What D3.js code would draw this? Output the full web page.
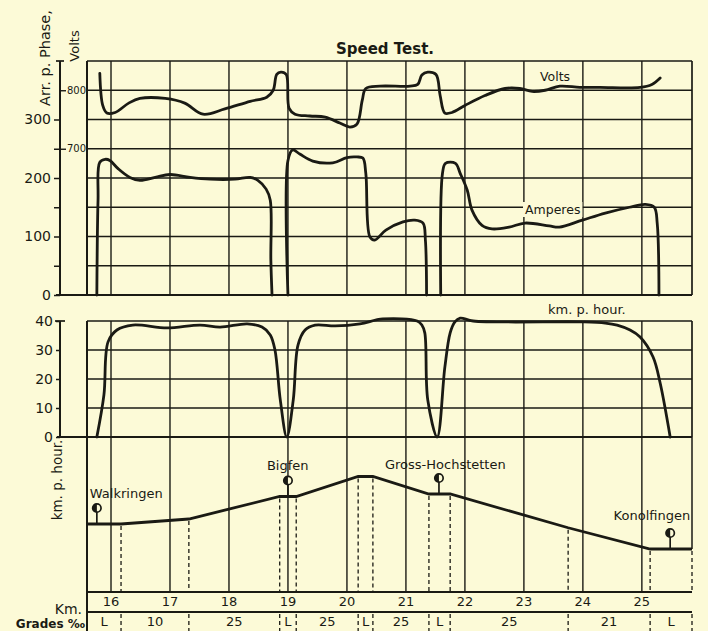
<!DOCTYPE html>
<html lang="en">
<head>
<meta charset="UTF-8">
<script src="https://d3js.org/d3.v7.min.js"></script>
<title>Speed Test.</title>
<style>
    body { margin: 0; background: #fcfad7; }
    svg text { font-family: "DejaVu Sans", sans-serif; fill: #1a1a14; }
</style>
</head>
<body>
<div id="chart"></div>
<script>
// values (km along the line)
let kmTicks = [16, 17, 18, 19, 20, 21, 22, 23, 24, 25];
let ampTicks = [0, 50, 100, 150, 200, 250, 300];
let ampLabels = [0, 100, 200, 300];
let voltLabels = [700, 800];
let speedTicks = [0, 10, 20, 30, 40];

let volts = [[15.81, 829], [15.86, 774], [15.93, 761], [16.07, 762], [16.3, 778], [16.49, 786], [16.92, 786],
    [17.25, 778], [17.56, 759], [17.93, 768], [18.36, 781], [18.64, 788], [18.75, 800], [18.81, 827],
    [18.88, 831], [18.97, 827], [19.02, 769], [19.12, 759], [19.37, 756], [19.63, 754], [19.88, 744],
    [20.05, 737], [20.17, 742], [20.26, 783], [20.32, 803], [20.56, 807], [21.07, 807], [21.2, 810],
    [21.27, 826], [21.37, 831], [21.51, 827], [21.58, 791], [21.66, 761], [21.78, 762], [22.0, 774],
    [22.34, 791], [22.68, 803], [22.93, 803], [23.14, 798], [23.36, 800], [23.61, 807], [23.95, 805],
    [24.29, 805], [24.97, 805], [25.17, 810], [25.31, 821]];

let amps1 = [[15.76, 0], [15.78, 162], [15.81, 227], [15.9, 232], [15.98, 230], [16.12, 216], [16.32, 201],
    [16.49, 196], [16.75, 201], [17.0, 206], [17.34, 201], [17.68, 198], [18.1, 198], [18.36, 201],
    [18.49, 196], [18.63, 181], [18.7, 162], [18.71, 60], [18.73, 0]];
let amps2 = [[19.0, 0], [19.0, 230], [19.08, 248], [19.2, 241], [19.42, 229], [19.76, 226], [20.0, 235],
    [20.17, 236], [20.27, 234], [20.32, 208], [20.39, 99], [20.47, 94], [20.66, 111], [20.95, 125],
    [21.15, 128], [21.29, 123], [21.33, 94], [21.35, 0]];
let amps3 = [[21.59, 0], [21.62, 208], [21.67, 225], [21.84, 225], [21.92, 208], [22.04, 179], [22.12, 145],
    [22.29, 119], [22.46, 113], [22.75, 116], [23.02, 123], [23.43, 118], [23.6, 116], [23.99, 128],
    [24.38, 140], [24.79, 150], [25.06, 155], [25.21, 150], [25.26, 123], [25.29, 0]];

let speed = [[15.76, 0], [15.88, 14.5], [15.95, 32.8], [16.1, 36.9], [16.37, 38.6], [16.95, 37.6],
    [17.51, 38.6], [17.85, 37.9], [18.31, 39], [18.56, 37.9], [18.7, 35.2], [18.78, 30], [18.87, 12.8],
    [18.98, 0], [19.09, 12.8], [19.17, 31.7], [19.29, 36.9], [19.46, 38.6], [19.8, 38.3], [20.22, 39],
    [20.61, 40.7], [21.19, 40], [21.27, 38.6], [21.32, 35.9], [21.37, 12.8], [21.53, 0], [21.66, 24.1],
    [21.75, 35.9], [21.83, 39.7], [21.92, 41], [22.14, 40], [24.0, 39.7], [24.38, 39.3], [24.58, 38.6],
    [24.8, 36.9], [24.97, 34.5], [25.19, 27.6], [25.31, 18.6], [25.48, 0]];

let profileKm = [15.593, 16.17, 17.32, 18.86, 19.14, 20.19, 20.44, 21.39, 21.75, 23.75, 25.14, 25.85];
let profileElev = [700, 700, 704, 722, 722, 738, 738, 724, 724, 697, 680, 680];
let gradeLabels = ["L", "10", "25", "L", "25", "L", "25", "L", "25", "21", "L"];

let stationNames = ["Walkringen", "Bigfen", "Gross-Hochstetten", "Konolfingen"];
let stationKm = [15.76, 19.0, 21.56, 25.48];
let stationElev = [700, 722, 724, 680];

// page
let width = 708, height = 631;
let ink = "#1a1a14";
let paper = "#fcfad7";
let svg = d3.select("#chart").append("svg")
    .attr("width", width).attr("height", height)
    .style("display", "block").style("background", paper);

let x = d3.scaleLinear().domain([15.593, 25.85]).range([87, 692]);
let yAmp = d3.scaleLinear().domain([0, 400]).range([295, 61]);
let yVolt = d3.scaleLinear().domain([450, 850]).range([295, 61]);
let ySpeed = d3.scaleLinear().domain([0, 40]).range([437, 321]);
let yElev = d3.scaleLinear().domain([645.6, 769.6]).range([592, 437]);

let line = (g, x1, y1, x2, y2, w, dash) => g.append("line")
    .attr("x1", x1).attr("y1", y1).attr("x2", x2).attr("y2", y2)
    .attr("stroke", ink).attr("stroke-width", w || 1.3)
    .attr("stroke-dasharray", dash || null);

let grid = svg.append("g");

// upper panel grid
d3.range(0, 401, 50).forEach(a => line(grid, x.range()[0], yAmp(a), x.range()[1], yAmp(a), a === 0 ? 2 : 1.3));
line(grid, 56, yAmp(0), x.range()[0], yAmp(0), 2);
kmTicks.forEach(k => line(grid, x(k), yAmp(400), x(k), yAmp(0), 1.4));
line(grid, x.range()[0], yAmp(400), x.range()[0], yAmp(0), 2);
line(grid, x.range()[1], yAmp(400), x.range()[1], yAmp(0), 1.7);

// speed panel grid
speedTicks.forEach(s => line(grid, x.range()[0], ySpeed(s), x.range()[1], ySpeed(s), s === 0 ? 2 : 1.3));
line(grid, 57, ySpeed(0), x.range()[0], ySpeed(0), 2);
kmTicks.forEach(k => line(grid, x(k), ySpeed(40), x(k), ySpeed(0), 1.4));
line(grid, x.range()[0], ySpeed(40), x.range()[0], height, 2);
line(grid, x.range()[1], ySpeed(40), x.range()[1], ySpeed(0), 1.7);

// profile panel grid
let yBase = yElev.range()[0];
kmTicks.forEach(k => line(grid, x(k), ySpeed(0), x(k), yBase, 1.4));
line(grid, x.range()[1], ySpeed(0), x.range()[1], yElev(profileElev[profileElev.length - 1]), 1.5);
line(grid, x.range()[0], yBase, x.range()[1], yBase, 2);
line(grid, x.range()[0], yBase + 20, x.range()[1], yBase + 20, 2);
profileKm.slice(1).forEach((k, i) => {
    let e = profileElev[i + 1];
    line(grid, x(k), yElev(e) + 2, x(k), yBase, 1.3, "4,3");
    line(grid, x(k), yBase + 22, x(k), height, 1.3, "4,3");
});

// left axes
let amAxis = svg.append("g").attr("transform", "translate(60,0)")
    .call(d3.axisLeft(yAmp).tickValues(ampTicks).tickSize(6).tickSizeOuter(0)
        .tickFormat(d => ampLabels.includes(d) ? d : ""));
amAxis.select(".domain").attr("d", "M0," + yAmp(400) + "V" + yAmp(0)).attr("stroke-width", 2);
amAxis.selectAll(".tick line").attr("stroke-width", 1.5);
amAxis.selectAll(".tick text").attr("x", -9).style("font-size", "14px").style("font-family", "DejaVu Sans");
line(svg, 56, yAmp(400), 64, yAmp(400), 1.7);

let vAxis = svg.append("g").attr("transform", "translate(60,0)")
    .call(d3.axisRight(yVolt).tickValues(voltLabels).tickSize(6).tickSizeOuter(0));
vAxis.select(".domain").remove();
vAxis.selectAll(".tick line").attr("stroke-width", 1.4);
vAxis.selectAll(".tick text").attr("x", 7).style("font-size", "10px").style("font-family", "DejaVu Sans");

let sAxis = svg.append("g").attr("transform", "translate(60,0)")
    .call(d3.axisLeft(ySpeed).tickValues(speedTicks).tickSize(4).tickSizeOuter(0));
sAxis.select(".domain").attr("d", "M0," + ySpeed(40) + "V" + ySpeed(0)).attr("stroke-width", 2);
sAxis.selectAll(".tick line").attr("stroke-width", 1.5);
sAxis.selectAll(".tick text").attr("x", -7).style("font-size", "14px").style("font-family", "DejaVu Sans");
line(svg, 55, ySpeed(40), 65, ySpeed(40), 1.7);
svg.selectAll(".tick text").attr("fill", ink);
svg.selectAll(".tick line, .domain").attr("stroke", ink);

// curves
let curve = d3.curveCatmullRom.alpha(0.5);
let drawCurve = (data, ys) => svg.append("path").datum(data)
    .attr("fill", "none").attr("stroke", ink).attr("stroke-width", 2.8)
    .attr("stroke-linejoin", "round").attr("stroke-linecap", "round")
    .attr("d", d3.line().x(d => x(d[0])).y(d => ys(d[1])).curve(curve));
drawCurve(volts, yVolt);
drawCurve(amps1, yAmp);
drawCurve(amps2, yAmp);
drawCurve(amps3, yAmp);
drawCurve(speed, ySpeed);

// profile
svg.append("path").datum(d3.zip(profileKm, profileElev))
    .attr("fill", "none").attr("stroke", ink).attr("stroke-width", 2.8)
    .attr("d", d3.line().x(d => x(d[0])).y(d => yElev(d[1])));

// stations
let labelPos = [{dx: -7, anchor: "start", dy: -26}, {dx: -21, anchor: "start", dy: -27},
    {dx: -54, anchor: "start", dy: -25}, {dx: 20, anchor: "end", dy: -29}];
stationNames.forEach((name, i) => {
    let sx = x(stationKm[i]), sy = yElev(stationElev[i]);
    line(svg, sx, sy, sx, sy - 13, 1.7);
    svg.append("circle").attr("cx", sx).attr("cy", sy - 16).attr("r", 4.2)
        .attr("fill", paper).attr("stroke", ink).attr("stroke-width", 1.7);
    svg.append("path")
        .attr("d", "M" + sx + "," + (sy - 20.2) + "A4.2,4.2 0 0 0 " + sx + "," + (sy - 11.8) + "Z")
        .attr("fill", ink);
    svg.append("text").attr("x", sx + labelPos[i].dx).attr("y", sy + labelPos[i].dy)
        .attr("text-anchor", labelPos[i].anchor)
        .style("font-size", "13px").text(name);
});

// km row and grades row
kmTicks.forEach(k => {
    svg.append("text").attr("x", x(k)).attr("y", yBase + 14)
        .attr("text-anchor", "middle").style("font-size", "13px").text(k);
});
let bounds = [x.domain()[0]].concat(profileKm.slice(1));
gradeLabels.forEach((g, i) => {
    svg.append("text").attr("x", (x(bounds[i]) + x(bounds[i + 1])) / 2).attr("y", yBase + 34)
        .attr("text-anchor", "middle").style("font-size", "13px").text(g);
});
svg.append("text").attr("x", 82).attr("y", 614).attr("text-anchor", "end")
    .style("font-size", "14px").text("Km.");
svg.append("text").attr("x", 85).attr("y", 628).attr("text-anchor", "end")
    .style("font-size", "12px").style("font-weight", "bold").text("Grades ‰");

// titles and labels
svg.append("text").attr("x", 385).attr("y", 54).attr("text-anchor", "middle")
    .style("font-size", "15px").style("font-weight", "bold").text("Speed Test.");
svg.append("text").attr("x", 540).attr("y", 81).style("font-size", "12.5px").text("Volts");
let ampLbl = svg.append("text").attr("x", 525).attr("y", 214).style("font-size", "12.5px").text("Amperes");
let bb = ampLbl.node().getBBox();
svg.insert("rect", () => ampLbl.node()).attr("x", bb.x - 2).attr("y", bb.y).attr("width", bb.width + 4)
    .attr("height", bb.height).attr("fill", paper);
svg.append("text").attr("x", 548).attr("y", 314).style("font-size", "13px").text("km. p. hour.");
svg.append("text").attr("transform", "translate(50,58) rotate(-90)").attr("text-anchor", "middle")
    .style("font-size", "14.5px").text("Arr. p. Phase,");
svg.append("text").attr("transform", "translate(79,46) rotate(-90)").attr("text-anchor", "middle")
    .style("font-size", "13px").text("Volts");
svg.append("text").attr("transform", "translate(62,480) rotate(-90)").attr("text-anchor", "middle")
    .style("font-size", "13.5px").text("km. p. hour.");
</script>
</body>
</html>
